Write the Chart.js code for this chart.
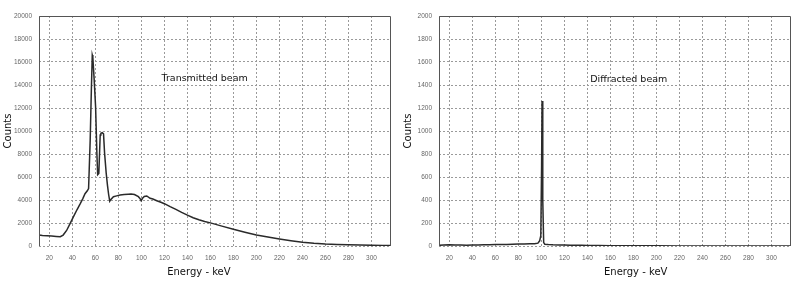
<!DOCTYPE html>
<html>
<head>
<meta charset="utf-8">
<script src="https://cdn.jsdelivr.net/npm/chart.js@4"></script>
<style>
  body { margin: 0; background: #fff; }
  .panel { position: absolute; top: 0; }
</style>
</head>
<body>
<div class="panel" style="left:0"><canvas id="chart-transmitted" width="400" height="284"></canvas></div>
<div class="panel" style="left:400px"><canvas id="chart-diffracted" width="401" height="284"></canvas></div>
<script>
// Energy axis tick labels (keV)
const energyTicks = [20, 40, 60, 80, 100, 120, 140, 160, 180, 200, 220, 240, 260, 280, 300];
const transCountTicks = [0, 2000, 4000, 6000, 8000, 10000, 12000, 14000, 16000, 18000, 20000];
const diffCountTicks = [0, 200, 400, 600, 800, 1000, 1200, 1400, 1600, 1800, 2000];

// Transmitted beam spectrum
const transEnergy = [11, 14, 18, 22, 26, 29.5, 32, 35, 38, 41, 44, 47, 49, 51, 53, 54.1, 55.5, 56.5, 57.3, 57.8,
    59, 60.2, 61.3, 62, 63, 64.2, 64.8, 66, 67.1, 68, 69.4, 70.5, 71.5, 72.5, 73.5, 75.7, 78.5, 81.5, 85, 88.5,
    91, 94, 97.4, 99, 99.8, 101, 102.5, 104.7, 107.6, 110, 113.4, 117, 120, 125, 130, 135, 140, 145, 150, 155,
    160, 170, 180, 190, 200, 210, 220, 230, 240, 250, 260, 270, 280, 290, 300, 310, 317];
const transCounts = [950, 920, 890, 860, 830, 810, 950, 1350, 1950, 2550, 3150, 3700, 4100, 4550, 4800, 5000, 9200, 13500, 16600, 16400,
    14400, 12100, 8100, 6200, 6300, 9650, 9800, 9850, 9750, 8100, 6350, 5300, 4500, 3900, 4050, 4290, 4360, 4430, 4470, 4500,
    4520, 4480, 4290, 4100, 3940, 4150, 4300, 4350, 4150, 4080, 3940, 3800, 3680, 3420, 3180, 2920, 2680, 2460, 2280, 2130,
    2010, 1730, 1450, 1200, 960, 780, 610, 460, 330, 240, 175, 135, 110, 85, 65, 50, 40];

// Diffracted beam spectrum
const diffEnergy = [11, 15, 20, 25, 30, 35, 40, 45, 50, 55, 60, 65, 70, 75, 80, 85, 90, 94, 97, 98.5,
    99.5, 100.2, 100.6, 101.0, 101.4, 102, 103, 106, 110, 115, 120, 125, 130, 135, 140, 150, 160, 170, 180,
    200, 220, 240, 260, 280, 300, 317];
const diffCounts = [6, 8, 10, 9, 8, 7, 8, 9, 10, 11, 13, 14, 14, 16, 17, 18, 19, 20, 25, 45,
    90, 700, 1260, 1250, 400, 30, 15, 12, 10, 9, 8, 7, 7, 6, 5, 4, 3, 3, 2,
    2, 1, 1, 1, 1, 1, 1];

const framePlugin = {
    id: 'frame',
    afterDraw(chart, args, opts) {
        const { ctx, chartArea: a, scales } = chart;
        ctx.save();
        ctx.strokeStyle = '#555';
        ctx.lineWidth = 1;
        ctx.beginPath();
        ctx.moveTo(a.left + 0.5, a.bottom);
        ctx.lineTo(a.left + 0.5, a.top + 0.5);
        ctx.lineTo(a.right - 0.5, a.top + 0.5);
        ctx.lineTo(a.right - 0.5, a.bottom);
        ctx.stroke();
        ctx.fillStyle = '#111';
        ctx.textAlign = 'center';
        ctx.textBaseline = 'middle';
        ctx.font = '9.5px "DejaVu Sans"';
        ctx.fillText(opts.label, scales.x.getPixelForValue(opts.labelAt[0]), scales.y.getPixelForValue(opts.labelAt[1]));
        ctx.font = '10px "DejaVu Sans"';
        ctx.fillText('Energy - keV', scales.x.getPixelForValue(opts.titleAt), a.bottom + 26);
        ctx.restore();
    }
};

function createSpectrum(canvasId, energies, counts, countTicks, label, labelAt, titleAt, rightPad) {
    const ctx = document.getElementById(canvasId).getContext('2d');
    const points = energies.map((e, i) => ({ x: e, y: counts[i] }));
    new Chart(ctx, {
        type: 'line',
        data: {
            datasets: [{
                data: points,
                borderColor: '#2a2a2a',
                borderWidth: 1.5,
                pointRadius: 0,
                tension: 0,
                fill: false
            }]
        },
        options: {
            responsive: false,
            animation: false,
            layout: { padding: { left: 0, top: 16, right: rightPad, bottom: 0 } },
            plugins: {
                legend: { display: false },
                tooltip: { enabled: false },
                frame: { label: label, labelAt: labelAt, titleAt: titleAt }
            },
            scales: {
                x: {
                    type: 'linear',
                    min: 11,
                    max: 317,
                    afterBuildTicks: s => { s.ticks = energyTicks.map(v => ({ value: v })); },
                    afterFit: s => { s.height = 38; },
                    grid: { color: '#9a9a9a', drawTicks: false },
                    border: { display: false, dash: [2, 2] },
                    ticks: {
                        autoSkip: false,
                        maxRotation: 0,
                        padding: 8,
                        color: '#666',
                        font: { family: 'Liberation Sans', size: 6.5 },
                        callback: v => String(v)
                    }
                },
                y: {
                    min: countTicks[0],
                    max: countTicks[countTicks.length - 1],
                    afterBuildTicks: s => { s.ticks = countTicks.map(v => ({ value: v })); },
                    afterFit: s => { s.width = 39; },
                    grid: { color: '#9a9a9a', drawTicks: false },
                    border: { display: false, dash: [2, 2] },
                    ticks: {
                        padding: 7,
                        color: '#666',
                        font: { family: 'Liberation Sans', size: 6.5 },
                        callback: v => String(v)
                    },
                    title: {
                        display: true,
                        text: 'Counts',
                        color: '#111',
                        padding: { top: 2, bottom: 0 },
                        font: { family: 'DejaVu Sans', size: 10 }
                    }
                }
            }
        },
        plugins: [framePlugin]
    });
}

createSpectrum('chart-transmitted', transEnergy, transCounts, transCountTicks, 'Transmitted beam', [155, 14600], 150, 9);
createSpectrum('chart-diffracted', diffEnergy, diffCounts, diffCountTicks, 'Diffracted beam', [176, 1450], 182, 10);
</script>
</body>
</html>
